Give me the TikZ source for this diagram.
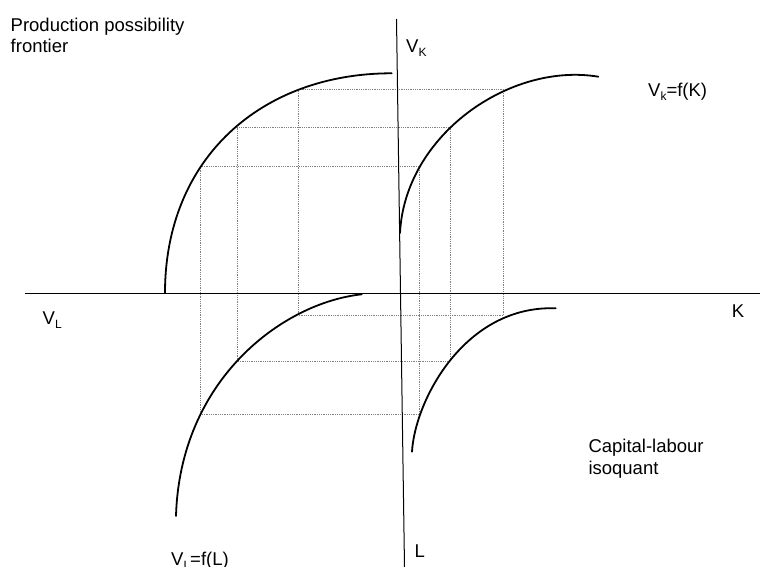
\documentclass[tikz,border=0pt]{standalone}
\usepackage{fontspec}
\setmainfont{Liberation Sans}
\newcommand{\lowsub}[1]{\raisebox{-4pt}{\fontsize{12}{12}\selectfont #1}}
\begin{document}
\begin{tikzpicture}[x=1pt,y=-1pt,
  curve/.style={line width=1.8pt, line cap=round},
  axis/.style={line width=1.0pt},
  guide/.style={line width=0.9pt, black!50, dash pattern=on 0.9pt off 0.9pt},
  lbl/.style={anchor=base west, inner sep=0pt, font=\fontsize{18.5}{21}\selectfont}]
\useasboundingbox (0,0) rectangle (760,567);

% axes
\coordinate (xl) at (25,293);
\coordinate (xr) at (760,293);
\coordinate (yt) at (396.5,19);
\coordinate (yb) at (404.5,567);

% guide rectangles
\coordinate (a1) at (200,166);
\coordinate (a2) at (419.3,414.3);
\coordinate (b1) at (237.3,127.7);
\coordinate (b2) at (450,361);
\coordinate (c1) at (298.3,89.3);
\coordinate (c2) at (503.3,315.7);

\draw[guide] (a1) rectangle (a2);
\draw[guide] (b1) rectangle (b2);
\draw[guide] (c1) rectangle (c2);

\draw[axis] (xl) -- (xr);
\draw[axis] (yt) -- (yb);

% curve end points
\coordinate (ppfS) at (165,293);
\coordinate (ppfE) at (391.7,73.3);
\coordinate (vkS) at (400,233);
\coordinate (vkE) at (598.3,76.7);
\coordinate (vlS) at (361.7,294.3);
\coordinate (vlE) at (176,516);
\coordinate (isS) at (412,451.7);
\coordinate (isE) at (555.7,308.3);

% production possibility frontier
\draw[curve] (ppfS) .. controls (165,158) and (261.7,73.3) .. (ppfE);
% V_k = f(K)
\draw[curve] (vkS) .. controls (405,135) and (510,62) .. (vkE);
% V_L = f(L)
\draw[curve] (vlS) .. controls (282,303) and (180,380) .. (vlE);
% capital-labour isoquant
\draw[curve] (isS) .. controls (415,400) and (465,305) .. (isE);

% labels
\node[lbl] (ppf1) at (10.5,31.5) {Production possibility};
\node[lbl] (ppf2) at (10.5,52.3) {frontier};
\node[lbl] (vk) at (406,52.3) {V\lowsub{K}};
\node[lbl] (vkf) at (648,96.7) {V\lowsub{k}=f(K)};
\node[lbl] (vl) at (42.5,324) {V\lowsub{L}};
\node[lbl] (k) at (731.6,317) {K};
\node[lbl] (cl1) at (588.3,452.5) {Capital-labour};
\node[lbl] (cl2) at (588.3,474) {isoquant};
\node[lbl] (vlf) at (171,565.3) {V\lowsub{L}=f(L)};
\node[lbl] (l) at (414.3,557.3) {L};
\end{tikzpicture}
\end{document}
